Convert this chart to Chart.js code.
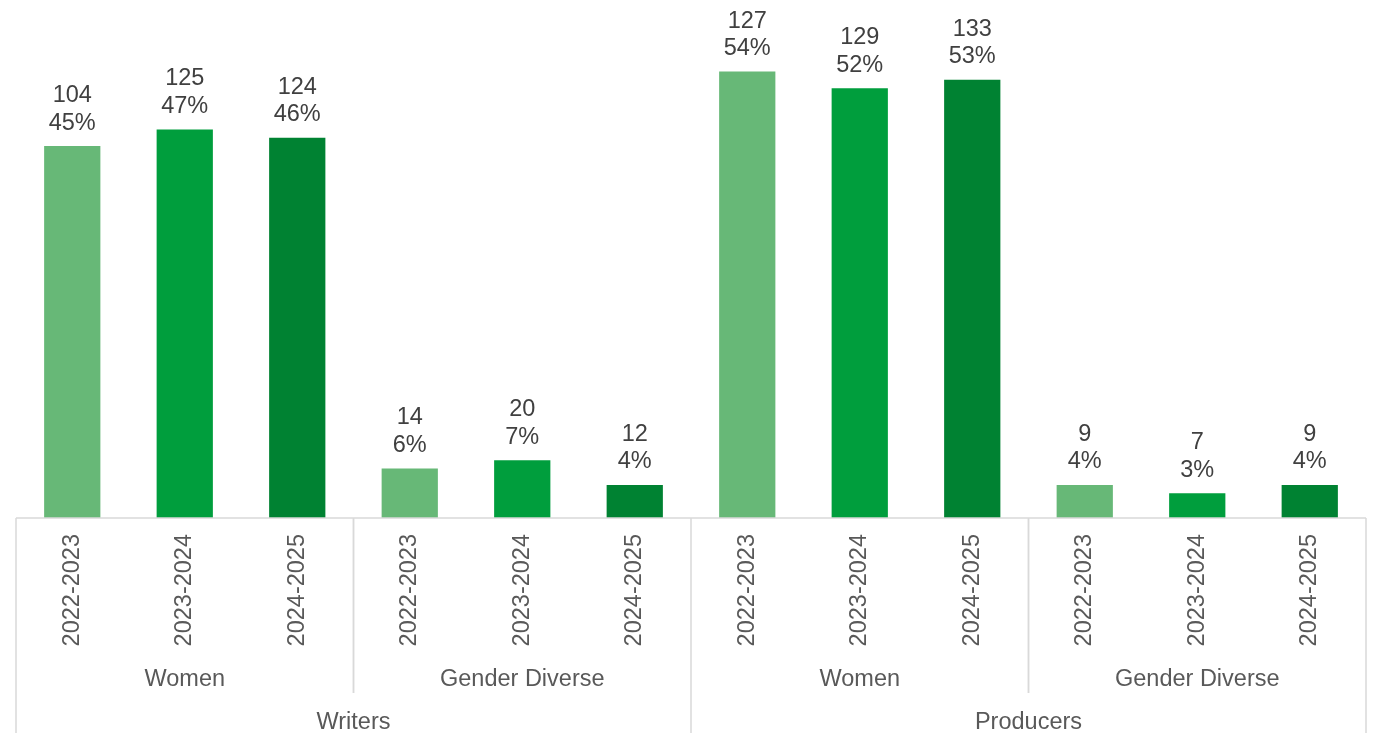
<!DOCTYPE html>
<html>
<head>
<meta charset="utf-8">
<script src="https://cdn.jsdelivr.net/npm/chart.js@4/dist/chart.umd.min.js"></script>
<style>
  html, body { margin: 0; padding: 0; background: #ffffff; }
  #wrap { width: 1373px; height: 733px; position: relative; }
</style>
</head>
<body>
<div id="wrap"><canvas id="c" width="1373" height="733"></canvas></div>
<script>
// ---- Data ----
const years = ['2022-2023', '2023-2024', '2024-2025'];
const subgroups = ['Women', 'Gender Diverse'];
const groups = ['Writers', 'Producers'];
const counts = [104, 125, 124, 14, 20, 12, 127, 129, 133, 9, 7, 9];
const percents = [45, 47, 46, 6, 7, 4, 54, 52, 53, 4, 3, 4];
const yearColors = ['#67B877', '#009E3D', '#008232'];

// ---- Build category table ----
const cats = [];
groups.forEach(g => subgroups.forEach(s => years.forEach((y, yi) => cats.push({ g, s, y, yi }))));
const labels = cats.map(c => c.y);
const colors = cats.map(c => yearColors[c.yi]);

const FONT = "'Liberation Sans', Arial, sans-serif";
const FS = 23.5;
const AXIS_COLOR = '#D9D9D9';

const multiAxis = {
  id: 'multiAxis',
  afterDraw(chart) {
    const ctx = chart.ctx;
    const xs = chart.scales.x;
    const ca = chart.chartArea;
    const base = ca.bottom;
    const n = cats.length;
    const step = xs.getPixelForValue(1) - xs.getPixelForValue(0);
    const edge = i => xs.getPixelForValue(i) - step / 2;
    const H = chart.height;

    ctx.save();
    // baseline
    ctx.strokeStyle = AXIS_COLOR;
    ctx.lineWidth = 1.5;
    ctx.beginPath();
    ctx.moveTo(edge(0), base);
    ctx.lineTo(edge(n), base);
    ctx.stroke();

    // level 1: years (rotated)
    ctx.fillStyle = '#595959';
    ctx.font = FS + 'px ' + FONT;
    for (let i = 0; i < n; i++) {
      ctx.save();
      ctx.translate(xs.getPixelForValue(i), base + 16);
      ctx.rotate(-Math.PI / 2);
      ctx.textAlign = 'right';
      ctx.textBaseline = 'middle';
      ctx.fillText(cats[i].y, 0, 0);
      ctx.restore();
    }

    // runs helper
    function runs(keyFn) {
      const out = [];
      let start = 0;
      for (let i = 1; i <= n; i++) {
        if (i === n || keyFn(cats[i]) !== keyFn(cats[start])) {
          out.push({ start, end: i, item: cats[start] });
          start = i;
        }
      }
      return out;
    }

    // level 2: subgroups
    const r2 = runs(c => c.g + '|' + c.s);
    ctx.textAlign = 'center';
    ctx.textBaseline = 'middle';
    r2.forEach(r => {
      const x0 = edge(r.start), x1 = edge(r.end);
      ctx.fillText(r.item.s, (x0 + x1) / 2, base + 162);
    });
    // level 3: groups
    const r3 = runs(c => c.g);
    r3.forEach(r => {
      const x0 = edge(r.start), x1 = edge(r.end);
      ctx.fillText(r.item.g, (x0 + x1) / 2, base + 205);
    });

    // separators
    ctx.strokeStyle = AXIS_COLOR;
    ctx.lineWidth = 1.5;
    const groupEdges = new Set();
    r3.forEach(r => { groupEdges.add(r.start); groupEdges.add(r.end); });
    groupEdges.forEach(i => {
      const x = edge(i);
      ctx.beginPath();
      ctx.moveTo(x, base);
      ctx.lineTo(x, H);
      ctx.stroke();
    });
    r2.forEach(r => {
      [r.start, r.end].forEach(i => {
        if (groupEdges.has(i)) return;
        const x = edge(i);
        ctx.beginPath();
        ctx.moveTo(x, base);
        ctx.lineTo(x, base + 175);
        ctx.stroke();
      });
    });

    // data labels
    const meta = chart.getDatasetMeta(0);
    ctx.fillStyle = '#404040';
    ctx.textAlign = 'center';
    ctx.textBaseline = 'alphabetic';
    meta.data.forEach((bar, i) => {
      ctx.fillText(String(counts[i]), bar.x, bar.y - 44);
      ctx.fillText(percents[i] + '%', bar.x, bar.y - 16.5);
    });
    ctx.restore();
  }
};

new Chart(document.getElementById('c'), {
  type: 'bar',
  data: {
    labels: labels,
    datasets: [{
      data: percents,
      backgroundColor: colors,
      borderWidth: 0,
      barPercentage: 0.5,
      categoryPercentage: 1.0
    }]
  },
  options: {
    responsive: false,
    animation: false,
    devicePixelRatio: 1,
    layout: { padding: { left: 16, right: 7, top: 22, bottom: 215 } },
    plugins: { legend: { display: false }, tooltip: { enabled: false } },
    scales: {
      x: { display: false },
      y: { display: false, min: 0, max: 60 }
    }
  },
  plugins: [multiAxis]
});
</script>
</body>
</html>
